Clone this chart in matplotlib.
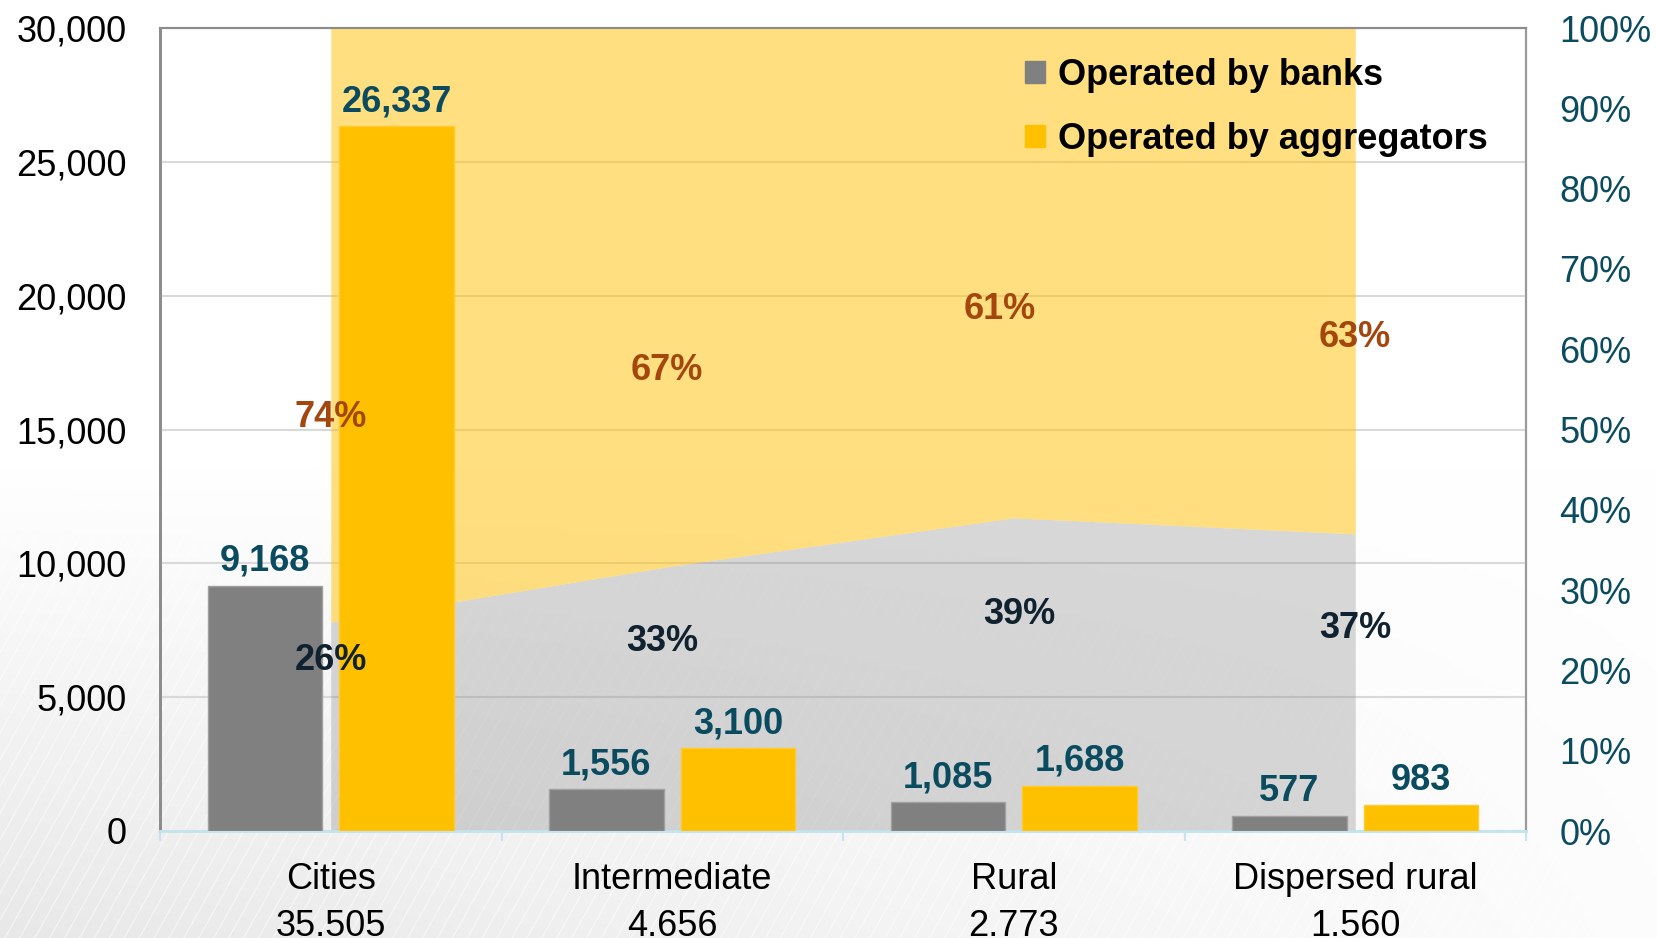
import numpy as np
import matplotlib.pyplot as plt
from matplotlib.patches import Patch

plt.rcParams['font.family'] = ['Liberation Sans', 'DejaVu Sans']

# Data
categories = ["Cities", "Intermediate", "Rural", "Dispersed rural"]
totals = [35505, 4656, 2773, 1560]
banks = [9168, 1556, 1085, 577]
aggregators = [26337, 3100, 1688, 983]
share_banks = [26, 33, 39, 37]
share_aggr = [74, 67, 61, 63]

# where the share labels sit (in % of the right axis)
label_y_aggr = [51.5, 57.4, 64.9, 61.4]
label_y_banks = [21.2, 23.6, 27.0, 25.2]
label_dx_aggr = [0, -0.015, -0.04, 0]
label_dx_banks = [0, -0.03, 0.015, 0]

GRAY = '#808080'
GOLD = '#FFC000'
TEAL = '#0B4B5F'
BROWN = '#A3470E'
DARK = '#10222F'

fig = plt.figure(figsize=(16.57, 9.38), dpi=100)

# faint striped background, bottom left
bg = fig.add_axes([0, 0, 1, 1], zorder=-10)
gx, gy = np.meshgrid(np.linspace(0, 1, 300), np.linspace(0, 1, 200))
shade = 1 - 0.09 * np.clip((0.5 - gy) / 0.5, 0, 1) * np.clip(1 - gx * 0.9, 0, 1)
bg.imshow(np.dstack([shade] * 3), extent=[0, 1, 0, 1], aspect='auto', origin='lower')
for s in np.arange(-0.6, 1.0, 0.009):
    bg.plot([s, s + 0.3], [0, 0.95], color='white', lw=0.8, alpha=0.6)
bg.set_xlim(0, 1)
bg.set_ylim(0, 1)
bg.axis('off')

ax = fig.add_axes([160/1657, 1 - 831/938, 1366/1657, 803/938])
ax2 = ax.twinx()
ax.set_zorder(2)
ax2.set_zorder(1)
ax.patch.set_visible(False)
ax2.patch.set_visible(False)

x = np.arange(len(categories))
w = 0.335
off = 0.193

ax.yaxis.grid(True, color='#D9D9D9', lw=1.5, zorder=0)
ax.set_axisbelow(True)

# share areas, drawn in the bar axes but scaled by the percent axis
sb = np.array(share_banks)
ax.fill_between(x, 0, sb, color=GRAY, alpha=0.3, lw=0, transform=ax2.transData, zorder=1)
ax.fill_between(x, sb, 100, color=GOLD, alpha=0.5, lw=0, transform=ax2.transData, zorder=1)

ax.bar(x - off, banks, w, color=GRAY, edgecolor='#A0A0A0', lw=1, zorder=3)
ax.bar(x + off, aggregators, w, color=GOLD, edgecolor='#FFCB30', lw=1, zorder=3)

for i in range(len(categories)):
    ax.annotate(f"{banks[i]:,}", (x[i] - off, banks[i]), xytext=(0, 5),
                textcoords='offset points', ha='center', va='bottom',
                fontsize=26, fontweight='bold', color=TEAL, zorder=5)
    ax.annotate(f"{aggregators[i]:,}", (x[i] + off, aggregators[i]), xytext=(0, 5),
                textcoords='offset points', ha='center', va='bottom',
                fontsize=26, fontweight='bold', color=TEAL, zorder=5)
    ax.text(x[i] + label_dx_aggr[i], label_y_aggr[i], f"{share_aggr[i]}%",
            transform=ax2.transData, ha='center', va='center',
            fontsize=26, fontweight='bold', color=BROWN, zorder=5)
    ax.text(x[i] + label_dx_banks[i], label_y_banks[i], f"{share_banks[i]}%",
            transform=ax2.transData, ha='center', va='center',
            fontsize=26, fontweight='bold', color=DARK, zorder=5)

ax.set_xlim(-0.5, 3.5)
ax.set_ylim(0, 30000)
ax2.set_ylim(0, 100)

ax.set_yticks(np.arange(0, 30001, 5000))
ax.set_yticklabels([f"{v:,}" for v in range(0, 30001, 5000)])
ax.tick_params(axis='y', length=0, pad=24, labelsize=26, labelcolor='black')

ax2.set_yticks(np.arange(0, 101, 10))
ax2.set_yticklabels([f"{v}%" for v in range(0, 101, 10)])
ax2.tick_params(axis='y', length=0, pad=24, labelsize=26, labelcolor=TEAL)

ax.set_xticks(x)
ax.set_xticklabels([f"{c}\n{t:,}".replace(",", ".") for c, t in zip(categories, totals)])
for lab in ax.get_xticklabels():
    lab.set_linespacing(1.45)
ax.set_xticks(np.arange(-0.5, 3.6, 1), minor=True)
ax.tick_params(axis='x', which='major', length=0, pad=22, labelsize=26)
ax.tick_params(axis='x', which='minor', length=7, width=1.5, color='#C5E4F0')

for a in (ax, ax2):
    a.spines['left'].set_color('#8C8C8C')
    a.spines['left'].set_linewidth(2)
    a.spines['top'].set_color('#8C8C8C')
    a.spines['top'].set_linewidth(1.5)
    a.spines['right'].set_color('#9A9A9A')
    a.spines['right'].set_linewidth(1.5)
    a.spines['bottom'].set_color('#C5E4F0')
    a.spines['bottom'].set_linewidth(2)

handles = [Patch(color=GRAY, label='Operated by banks'),
           Patch(color=GOLD, label='Operated by aggregators')]
leg = ax.legend(handles=handles, loc='upper left', bbox_to_anchor=(1025/1657, 1 - 58/938),
                bbox_transform=fig.transFigure, frameon=False, borderpad=0, borderaxespad=0,
                handlelength=0.55, handleheight=0.55, handletextpad=0.35, labelspacing=0.8,
                prop={'size': 26, 'weight': 'bold'})

plt.savefig("out.png", dpi=100)
